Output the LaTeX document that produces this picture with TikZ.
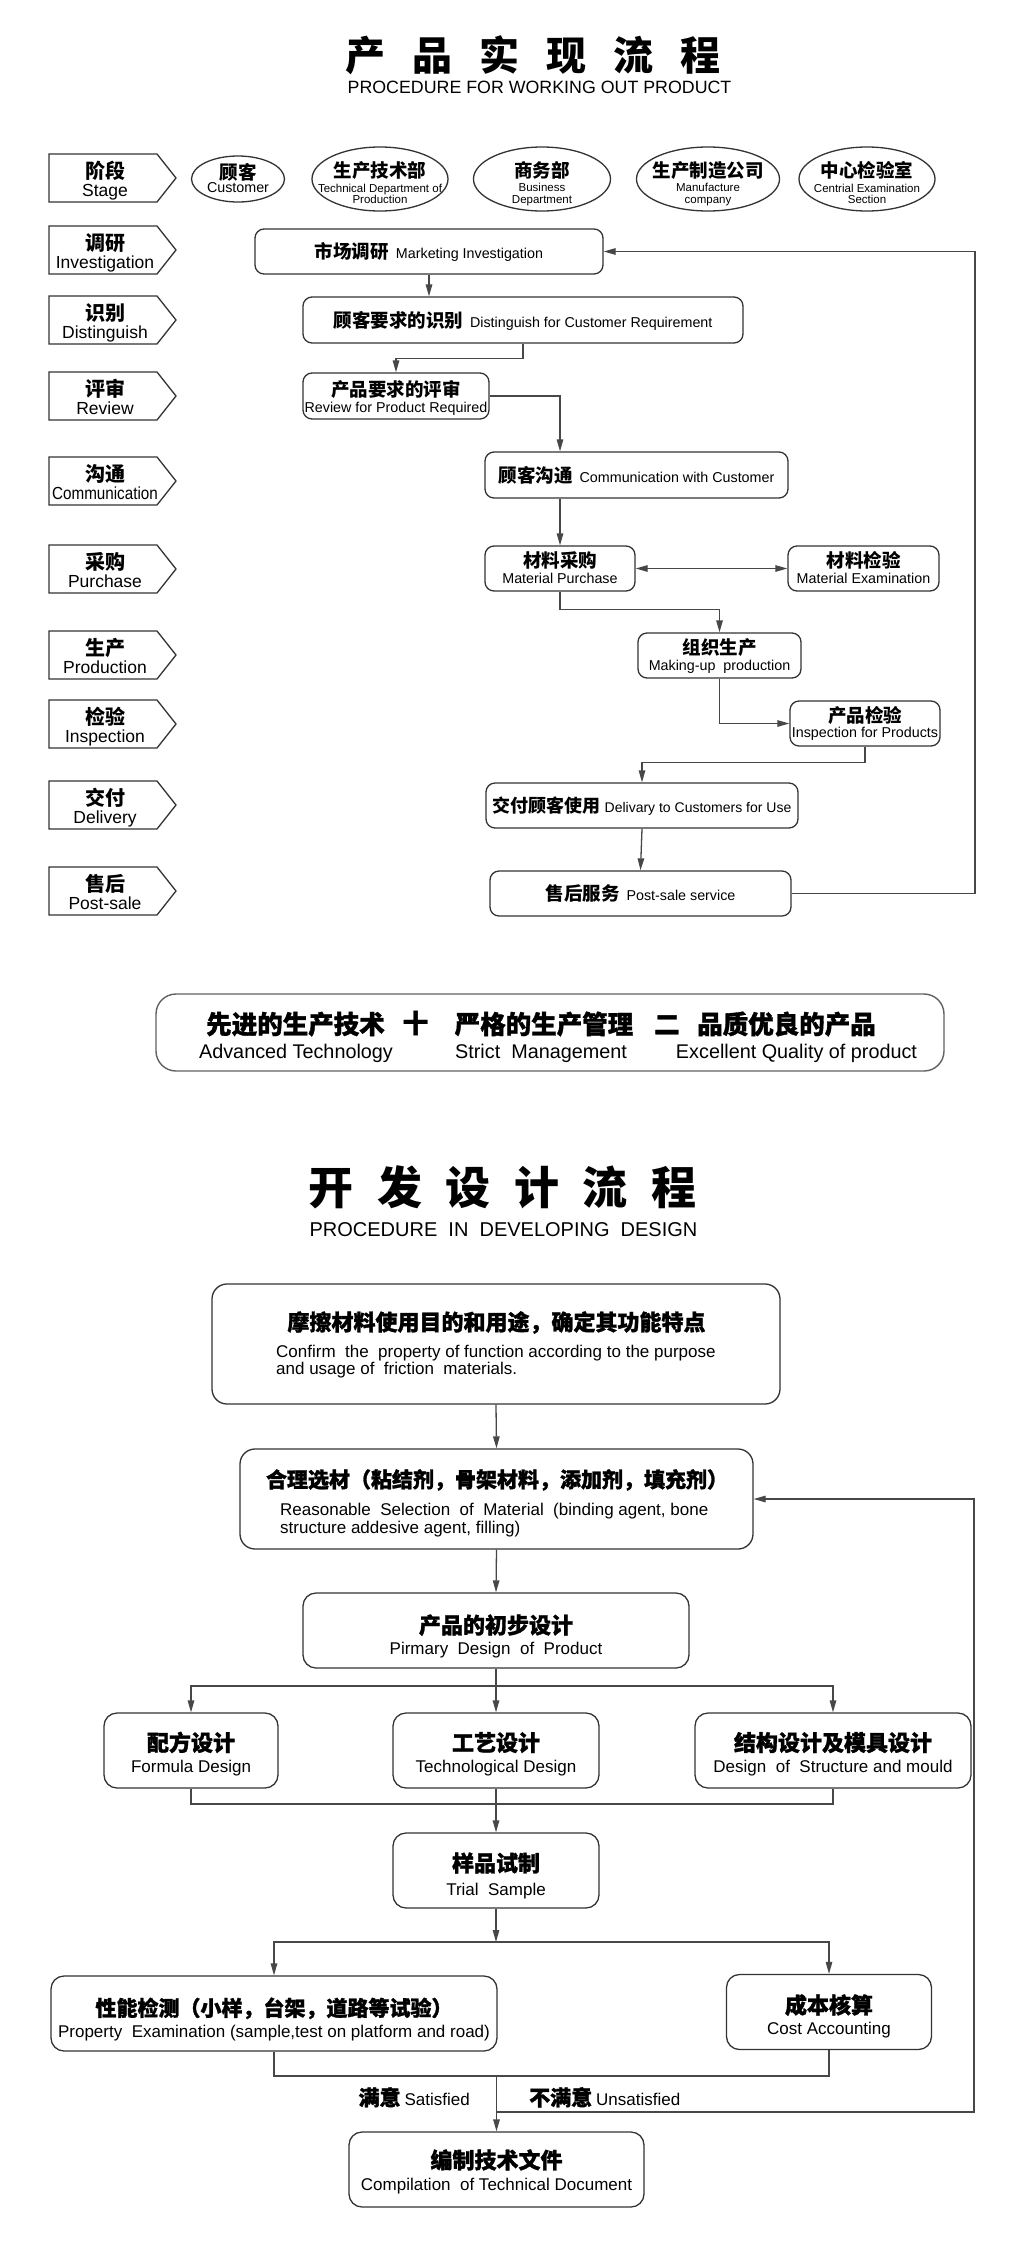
\documentclass[tikz,border=0pt]{standalone}
\usepackage{fontspec}
\setmainfont{Liberation Sans}
\newfontfamily\cn{Noto Sans CJK SC}
\newfontfamily\cnh[BoldFeatures={FakeBold=1.3}]{Noto Sans CJK SC}
\usetikzlibrary{arrows.meta,shapes.geometric,calc}
\newcommand{\fsz}[1]{\fontsize{#1}{#1}\selectfont}
\newcommand{\tgap}{\hspace{27pt}}
\newcommand{\tgapb}{\hspace{23.5pt}}
\begin{document}
\begin{tikzpicture}[x=1pt,y=-1pt,
  boxline/.style={draw=black!80, line width=1.3pt},
  conn/.style={draw=black!72, line width=1.3pt},
  arr/.style={conn, -{Triangle[length=12pt,width=6.5pt]}},
  arrboth/.style={conn, {Triangle[length=12pt,width=6.5pt]}-{Triangle[length=12pt,width=6.5pt]}},
  stageline/.style={draw=black!80, line width=1.3pt, line join=miter},
  ell/.style={boxline, ellipse, inner sep=0pt},
  pbox/.style={boxline, rounded corners=9pt, inner sep=0pt, minimum height=45pt},
  qbox/.style={boxline, rounded corners=13pt, inner sep=0pt, minimum height=75pt},
  one/.style={font=\fsz{14.3}, text height=15.3pt, text depth=1.3pt},
  cnS/.style={font=\cn\bfseries\fsz{20}, inner sep=0pt, text height=16.6pt, text depth=1.4pt},
  enS/.style={font=\fsz{17.5}, inner sep=0pt, text height=12.6pt, text depth=0pt},
  cnA/.style={font=\cn\bfseries\fsz{18.5}, inner sep=0pt, text height=15.3pt, text depth=1.3pt},
  enA/.style={font=\fsz{14.3}, inner sep=0pt, text height=10.3pt, text depth=0pt},
  enE/.style={font=\fsz{11.5}, inner sep=0pt, text height=8.3pt, text depth=0pt},
  cnB/.style={font=\cnh\bfseries\fsz{25.5}, inner sep=0pt, text height=21.2pt, text depth=1.8pt},
  enB/.style={font=\fsz{19.8}, inner sep=0pt, text height=14.3pt, text depth=0pt},
  cnH/.style={font=\cnh\bfseries\fsz{22}, inner sep=0pt, text height=18.3pt, text depth=1.5pt},
  enH/.style={font=\fsz{17}, inner sep=0pt, text height=12.2pt, text depth=0pt},
  enL/.style={font=\fsz{17}, inner sep=0pt, anchor=base west},
]
\path[use as bounding box, fill=white] (0,0) rectangle (1024,2265);

% ---------------- Title 1 ----------------
\node[font=\cn\bfseries\fsz{40}, inner sep=0pt, text height=33.2pt, text depth=2.8pt] (title1) at (533,55.5)
  {产\tgap 品\tgap 实\tgap 现\tgap 流\tgap 程};
\node[font=\fsz{17.8}, inner sep=0pt, text height=12.7pt, text depth=0pt] (sub1) at (539.5,87.5)
  {PROCEDURE FOR WORKING OUT PRODUCT};

% ---------------- Stage arrows ----------------
\foreach \yy in {178,250,320,396,481,569,655,724,805,891}
  \draw[stageline] (49,\yy-24) -- (157,\yy-24) -- (176,\yy) -- (157,\yy+24) -- (49,\yy+24) -- cycle;

\node[cnS] (s1a) at (105,171) {阶段};
\node[enS] (s1b) at (105,190.5) {Stage};
\node[cnS] (s2a) at (105,243) {调研};
\node[enS] (s2b) at (105,262.5) {Investigation};
\node[cnS] (s3a) at (105,313) {识别};
\node[enS] (s3b) at (105,332.5) {Distinguish};
\node[cnS] (s4a) at (105,389) {评审};
\node[enS] (s4b) at (105,408.5) {Review};
\node[cnS] (s5a) at (105,474) {沟通};
\node[enS] (s5b) at (105,493.5) {\scalebox{0.87}[1]{Communication}};
\node[cnS] (s6a) at (105,562) {采购};
\node[enS] (s6b) at (105,581.5) {Purchase};
\node[cnS] (s7a) at (105,648) {生产};
\node[enS] (s7b) at (105,667.5) {Production};
\node[cnS] (s8a) at (105,717) {检验};
\node[enS] (s8b) at (105,736.5) {Inspection};
\node[cnS] (s9a) at (105,798) {交付};
\node[enS] (s9b) at (105,817.5) {Delivery};
\node[cnS] (s10a) at (105,884) {售后};
\node[enS] (s10b) at (105,903.5) {Post-sale};

% ---------------- Department ellipses ----------------
\node[ell, minimum width=93pt, minimum height=46pt] (e1) at (238,179) {};
\node[cnA] (e1a) at (238,172.5) {顾客};
\node[enA] (e1b) at (238,187.5) {Customer};
\node[ell, minimum width=136pt, minimum height=64pt] (e2) at (380,179) {};
\node[cnA] (e2a) at (380,170.5) {生产技术部};
\node[enE] (e2b) at (380,188) {Technical Department of};
\node[enE] (e2c) at (380,199.5) {Production};
\node[ell, minimum width=137pt, minimum height=64pt] (e3) at (542,179) {};
\node[cnA] (e3a) at (542,170.5) {商务部};
\node[enE] (e3b) at (542,187.5) {Business};
\node[enE] (e3c) at (542,199) {Department};
\node[ell, minimum width=143pt, minimum height=64pt] (e4) at (708,179) {};
\node[cnA] (e4a) at (708,170.5) {生产制造公司};
\node[enE] (e4b) at (708,187.5) {Manufacture};
\node[enE] (e4c) at (708,199) {company};
\node[ell, minimum width=136pt, minimum height=64pt] (e5) at (867,179) {};
\node[cnA] (e5a) at (867,170.5) {中心检验室};
\node[enE] (e5b) at (867,188) {Centrial Examination};
\node[enE] (e5c) at (867,199.5) {Section};

% ---------------- Process boxes (chart 1) ----------------
\node[pbox, one, minimum width=348pt] (mkt) at (429,251.5)
  {{\cn\bfseries\fsz{18.5}市场调研}\hspace{7pt}Marketing Investigation};
\node[pbox, one, minimum width=440pt, minimum height=46pt] (dist) at (523,320)
  {{\cn\bfseries\fsz{18.5}顾客要求的识别}\hspace{7pt}Distinguish for Customer Requirement};
\node[pbox, minimum width=186pt, minimum height=46pt] (rev) at (396,396) {};
\node[cnA] (rev-a) at (396,389) {产品要求的评审};
\node[enA] (rev-b) at (396,407) {Review for Product Required};
\node[pbox, one, minimum width=303pt, minimum height=46pt] (comm) at (636.5,475)
  {{\cn\bfseries\fsz{18.5}顾客沟通}\hspace{7pt}Communication with Customer};
\node[pbox, minimum width=150pt] (mp) at (560,568.5) {};
\node[cnA] (mp-a) at (560,560) {材料采购};
\node[enA] (mp-b) at (560,578) {Material Purchase};
\node[pbox, minimum width=151pt] (me) at (863.5,568.5) {};
\node[cnA] (me-a) at (863.5,560) {材料检验};
\node[enA] (me-b) at (863.5,578) {Material Examination};
\node[pbox, minimum width=163pt] (mk) at (719.5,655.5) {};
\node[cnA] (mk-a) at (719.5,647) {组织生产};
\node[enA] (mk-b) at (719.5,665) {Making-up\ \ production};
\node[pbox, minimum width=150pt] (insp) at (865,723.5) {};
\node[cnA] (insp-a) at (865,715) {产品检验};
\node[enA] (insp-b) at (865,732.5) {Inspection for Products};
\node[pbox, minimum width=312pt, font=\fsz{14}, text height=15pt, text depth=1.3pt] (del) at (642,805.5)
  {{\cn\bfseries\fsz{18}交付顾客使用}\hspace{4pt}Delivary to Customers for Use};
\node[pbox, one, minimum width=301pt] (post) at (640.5,893.5)
  {{\cn\bfseries\fsz{18.5}售后服务}\hspace{7pt}Post-sale service};

% connectors chart 1
\draw[arr] (mkt.south) -- (mkt.south |- dist.north);
\draw[arr] (dist.south) -- ++(0,15) -| (rev.north);
\draw[arr] (rev.east) -| (mp.north |- comm.north);
\draw[arr] (mp.north |- comm.south) -- (mp.north);
\draw[arrboth] (mp.east) -- (me.west);
\draw[arr] (mp.south) -- ++(0,18) -| (mk.north);
\draw[arr] (mk.south) |- (insp.west);
\draw[arr] (insp.south) -- ++(0,16) -| (del.north);
\draw[arr] (del.south) -- (post.north);
\coordinate (fbA) at (975,251.5);
\draw[arr] (post.east) -| (fbA) -- (mkt.east);

% ---------------- Banner ----------------
\node[draw=black!62, line width=1.4pt, rounded corners=20pt, minimum width=788pt, minimum height=77pt, inner sep=0pt] (banner) at (550,1032.5) {};
\node[cnB] (b1) at (295.5,1024) {先进的生产技术};
\node[cnB] (bplus) at (415.5,1023) {十};
\node[cnB] (b2) at (544,1024) {严格的生产管理};
\node[cnB] (beq) at (667,1024) {二};
\node[cnB] (b3) at (786.5,1024) {品质优良的产品};
\node[enB] (b1e) at (296,1051) {Advanced Technology};
\node[enB] (b2e) at (541,1051) {Strict\ \ Management};
\node[enB] (b3e) at (796.5,1051) {Excellent Quality of product};

% ---------------- Title 2 ----------------
\node[font=\cn\bfseries\fsz{45}, inner sep=0pt, text height=37.4pt, text depth=3.1pt] (title2) at (502.5,1187.5)
  {开\tgapb 发\tgapb 设\tgapb 计\tgapb 流\tgapb 程};
\node[font=\fsz{20}, inner sep=0pt, text height=14.3pt, text depth=0pt] (sub2) at (503.5,1229)
  {PROCEDURE\ \ IN\ \ DEVELOPING\ \ DESIGN};

% ---------------- Chart 2 boxes ----------------
\node[qbox, rounded corners=15pt, minimum width=568pt, minimum height=120pt] (c1) at (496,1344) {};
\node[cnH] (c1a) at (496.5,1322) {摩擦材料使用目的和用途，确定其功能特点};
\node[enL] (c1b) at (276,1357) {Confirm\ \ the\ \ property of function according to the purpose};
\node[enL] (c1c) at (276,1374) {and usage of\ \ friction\ \ materials.};

\node[qbox, rounded corners=15pt, minimum width=513pt, minimum height=100pt] (c2) at (496.5,1499) {};
\node[cnH, font=\cnh\bfseries\fsz{21}] (c2a) at (497,1479) {合理选材（粘结剂，骨架材料，添加剂，填充剂）};
\node[enL] (c2b) at (280,1515.5) {Reasonable\ \ Selection\ \ of\ \ Material\ \ (binding agent, bone};
\node[enL] (c2c) at (280,1533.5) {structure addesive agent, filling)};

\node[qbox, minimum width=386pt] (c3) at (496,1630.5) {};
\node[cnH] (c3a) at (496,1625) {产品的初步设计};
\node[enH] (c3b) at (496,1648.5) {Pirmary\ \ Design\ \ of\ \ Product};

\node[qbox, minimum width=174pt] (form) at (191,1750.5) {};
\node[cnH] (form-a) at (191,1742.5) {配方设计};
\node[enH] (form-b) at (191,1766.5) {Formula Design};
\node[qbox, minimum width=206pt] (tech) at (496,1750.5) {};
\node[cnH] (tech-a) at (496,1742.5) {工艺设计};
\node[enH] (tech-b) at (496,1766.5) {Technological Design};
\node[qbox, minimum width=276pt] (struct) at (833,1750.5) {};
\node[cnH] (struct-a) at (833,1742.5) {结构设计及模具设计};
\node[enH] (struct-b) at (833,1766.5) {Design\ \ of\ \ Structure and mould};

\node[qbox, minimum width=206pt] (trial) at (496,1870.5) {};
\node[cnH] (trial-a) at (496,1863) {样品试制};
\node[enH] (trial-b) at (496,1889.5) {Trial\ \ Sample};

\node[qbox, minimum width=446pt] (prop) at (274,2013.5) {};
\node[cnH, font=\cnh\bfseries\fsz{21}] (prop-a) at (274,2007.5) {性能检测（小样，台架，道路等试验）};
\node[enH] (prop-b) at (274,2031) {Property\ \ Examination (sample,test on platform and road)};
\node[qbox, minimum width=205pt] (cost) at (829,2012) {};
\node[cnH] (cost-a) at (829,2005) {成本核算};
\node[enH] (cost-b) at (829,2028) {Cost Accounting};

\node[qbox, minimum width=295pt] (comp) at (496.5,2169.5) {};
\node[cnH] (comp-a) at (496.5,2160) {编制技术文件};
\node[enH] (comp-b) at (496.5,2184) {Compilation\ \ of Technical Document};

\node[inner sep=0pt, anchor=east, font=\fsz{17}, text height=18.3pt, text depth=1.5pt] (sat) at (470,2097)
  {{\cnh\bfseries\fsz{21}满意}\hspace{4pt}Satisfied};
\node[inner sep=0pt, anchor=west, font=\fsz{17}, text height=18.3pt, text depth=1.5pt] (unsat) at (529,2097)
  {{\cnh\bfseries\fsz{21}不满意}\hspace{4pt}Unsatisfied};

% connectors chart 2
\draw[arr] (c1.south) -- (c2.north);
\draw[arr] (c2.south) -- (c3.north);
\coordinate (br1) at (496,1686);
\draw[arr] (c3.south) -- (tech.north);
\draw[arr] (br1) -| (form.north);
\draw[arr] (br1) -| (struct.north);
\coordinate (m1) at (496,1804);
\draw[conn] (form.south) |- (m1) -| (struct.south);
\draw[arr] (tech.south) -- (trial.north);
\coordinate (br2) at (496,1942);
\draw[arr] (trial.south) -- (br2);
\draw[arr] (br2) -| (prop.north);
\draw[arr] (br2) -| (cost.north);
\coordinate (m2) at (496.5,2076);
\draw[conn] (prop.south) |- (m2) -| (cost.south);
\draw[arr] (m2) -- (comp.north);
\coordinate (us) at (496.5,2112);
\coordinate (fbB) at (974,1499);
\draw[arr] (us) -| (fbB) -- (c2.east);
\end{tikzpicture}
\end{document}
